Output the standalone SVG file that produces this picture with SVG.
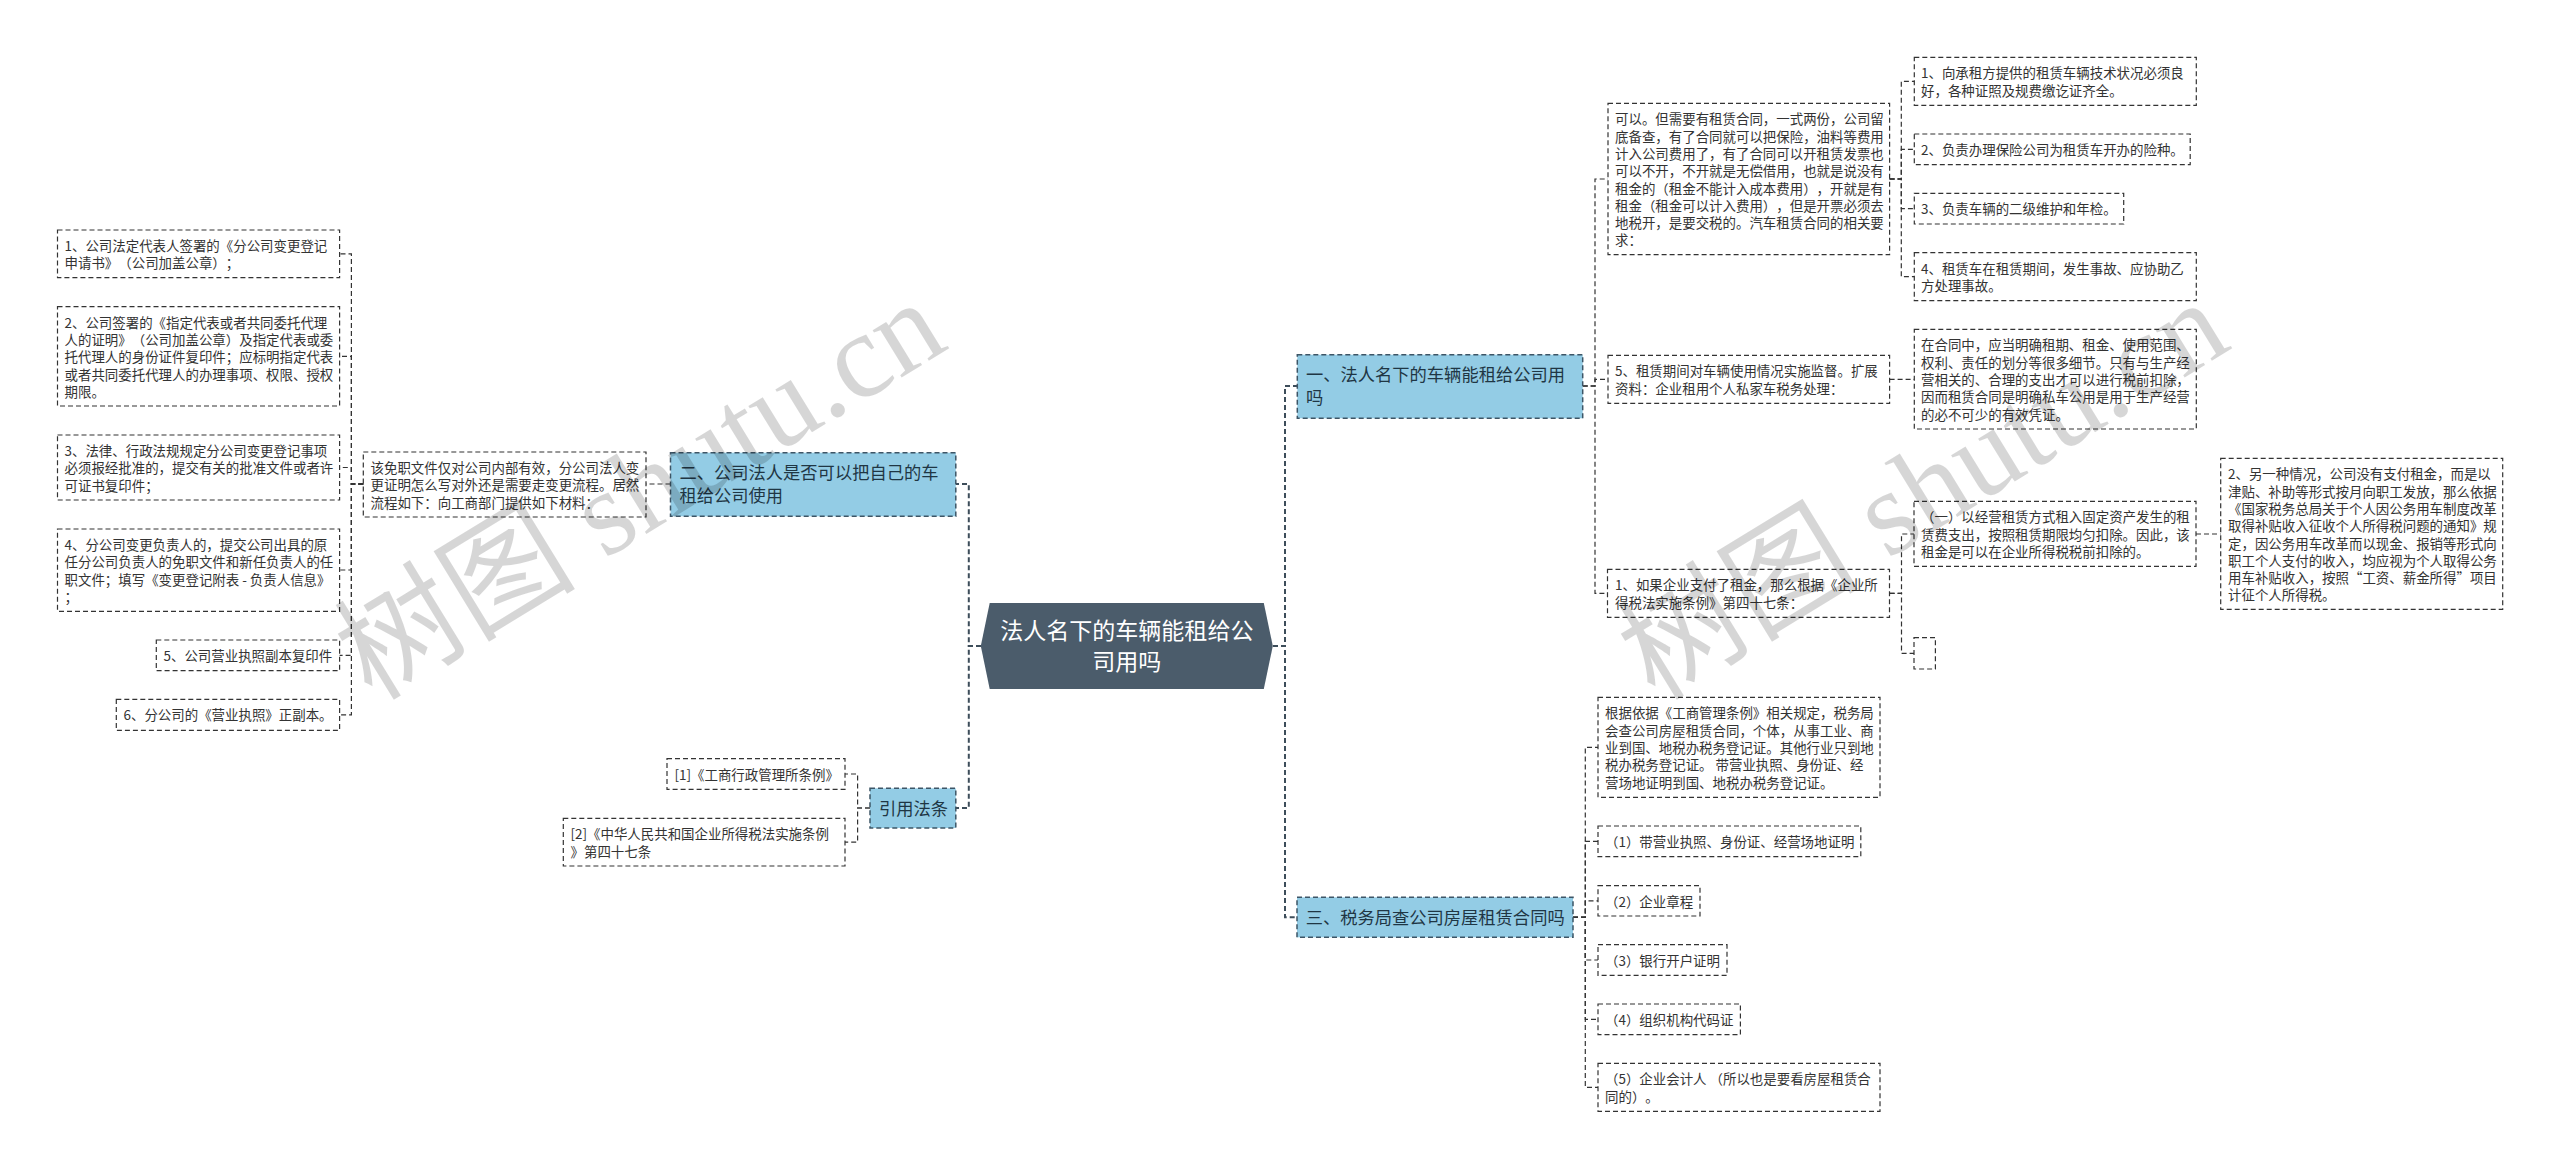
<svg xmlns="http://www.w3.org/2000/svg" width="2560" height="1169" viewBox="0 0 2560 1169">
<style>
text{font-family:"Noto Sans CJK SC","Noto Sans",sans-serif;text-spacing-trim:space-all;}
.leaf rect{fill:none;stroke:#333;stroke-width:1.2;stroke-dasharray:5 3;}
.leaf text{font-size:13.44px;fill:#333;}
.branch rect{fill:#93cce5;stroke:#3d5566;stroke-width:1.5;stroke-dasharray:5 3;}
.branch text{font-size:17.28px;fill:#1f3644;}
.root polygon{fill:#4b5c6b;}
.root text{font-size:23.04px;fill:#fff;text-anchor:middle;}
.c{fill:none;stroke:#333;stroke-width:1.2;stroke-dasharray:5 3;}
.c2{fill:none;stroke:#3d4d5a;stroke-width:2;stroke-dasharray:5 3;}
.wm{font-family:"Liberation Serif","Noto Sans CJK SC",serif;font-size:121px;fill:#000;fill-opacity:.16;}
</style>
<g id="connectors">
<path class="c2" d="M981 646H968.8V484H956"/>
<path class="c2" d="M981 646H968.8V808H956"/>
<path class="c2" d="M1273 646H1285V386H1297"/>
<path class="c2" d="M1273 646H1285V917.3H1297"/>
<path class="c" d="M670.5 484H646"/>
<path class="c" d="M363.3 484H351.4V253.8H339.6"/>
<path class="c" d="M363.3 484H351.4V356.3H339.6"/>
<path class="c" d="M363.3 484H351.4V467.5H339.6"/>
<path class="c" d="M363.3 484H351.4V570H339.6"/>
<path class="c" d="M363.3 484H351.4V655.3H339.6"/>
<path class="c" d="M363.3 484H351.4V714.8H339.6"/>
<path class="c" d="M870 808H857.6V774H845"/>
<path class="c" d="M870 808H857.6V842.2H845"/>
<path class="c" d="M1582.7 386H1595V179H1608"/>
<path class="c" d="M1582.7 386H1595V379.3H1608"/>
<path class="c" d="M1582.7 386H1595V593.3H1608"/>
<path class="c" d="M1889.6 179H1901.3V81.3H1914.3"/>
<path class="c" d="M1889.6 179H1901.3V149.3H1914.3"/>
<path class="c" d="M1889.6 179H1901.3V208.7H1914.3"/>
<path class="c" d="M1889.6 179H1901.3V276.7H1914.3"/>
<path class="c" d="M1889.6 379.3H1914.3"/>
<path class="c" d="M1889.6 593.3H1901.5V534H1914"/>
<path class="c" d="M1889.6 593.3H1901.5V653.3H1914"/>
<path class="c" d="M2196 534H2220.7"/>
<path class="c" d="M1573 917.3H1585.3V747.3H1598"/>
<path class="c" d="M1573 917.3H1585.3V841.3H1598"/>
<path class="c" d="M1573 917.3H1585.3V900.8H1598"/>
<path class="c" d="M1573 917.3H1585.3V960H1598"/>
<path class="c" d="M1573 917.3H1585.3V1019.3H1598"/>
<path class="c" d="M1573 917.3H1585.3V1087.3H1598"/>
</g>
<g id="root" class="root">
<polygon points="989.7,603 1263.8,603 1272.8,646 1263.8,689 989.7,689 980.8,646"/>
<text x="1126.8" y="639">法人名下的车辆能租给公</text>
<text x="1126.8" y="670">司用吗</text>
</g>
<g id="b1" class="branch"><rect x="1297.3" y="354.7" width="285.4" height="63.6"/>
<text x="1306" y="381">一、法人名下的车辆能租给公司用</text><text x="1306" y="404">吗</text></g>
<g id="b2" class="branch"><rect x="670.5" y="452.7" width="285.3" height="63.6"/>
<text x="679.5" y="479">二、公司法人是否可以把自己的车</text><text x="679.5" y="502">租给公司使用</text></g>
<g id="b3" class="branch"><rect x="1297" y="897.3" width="276" height="40"/>
<text x="1305.7" y="924">三、税务局查公司房屋租赁合同吗</text></g>
<g id="b4" class="branch"><rect x="870" y="788.3" width="85.8" height="39.7"/>
<text x="879" y="815">引用法条</text></g>
<g id="l1" class="leaf"><rect x="57.5" y="230" width="282.1" height="47.7"/>
<text x="64.5" y="251">1、公司法定代表人签署的《分公司变更登记</text><text x="64.5" y="268.3">申请书》（公司加盖公章）；</text></g>
<g id="l2" class="leaf"><rect x="57.5" y="306.7" width="282.1" height="99.3"/>
<text x="64.5" y="327.7">2、公司签署的《指定代表或者共同委托代理</text><text x="64.5" y="345">人的证明》（公司加盖公章）及指定代表或委</text><text x="64.5" y="362.3">托代理人的身份证件复印件；应标明指定代表</text><text x="64.5" y="379.6">或者共同委托代理人的办理事项、权限、授权</text><text x="64.5" y="396.9">期限。</text></g>
<g id="l3" class="leaf"><rect x="57.5" y="435" width="282.1" height="65"/>
<text x="64.5" y="456">3、法律、行政法规规定分公司变更登记事项</text><text x="64.5" y="473.3">必须报经批准的，提交有关的批准文件或者许</text><text x="64.5" y="490.6">可证书复印件；</text></g>
<g id="l4" class="leaf"><rect x="57.5" y="529" width="282.1" height="82.3"/>
<text x="64.5" y="550">4、分公司变更负责人的，提交公司出具的原</text><text x="64.5" y="567.3">任分公司负责人的免职文件和新任负责人的任</text><text x="64.5" y="584.6">职文件；填写《变更登记附表 - 负责人信息》</text><text x="64.5" y="601.9">；</text></g>
<g id="l5" class="leaf"><rect x="156.3" y="640" width="183.3" height="30.7"/>
<text x="163.5" y="661">5、公司营业执照副本复印件</text></g>
<g id="l6" class="leaf"><rect x="116.3" y="699.3" width="223.3" height="31"/>
<text x="123.5" y="720.3">6、分公司的《营业执照》正副本。</text></g>
<g id="l7" class="leaf"><rect x="363.3" y="452" width="282.7" height="65"/>
<text x="370.5" y="473">该免职文件仅对公司内部有效，分公司法人变</text><text x="370.5" y="490.3">更证明怎么写对外还是需要走变更流程。居然</text><text x="370.5" y="507.6">流程如下：向工商部门提供如下材料：</text></g>
<g id="l8" class="leaf"><rect x="667" y="758.7" width="178" height="30.6"/>
<text x="674.5" y="779.7">[1]《工商行政管理所条例》</text></g>
<g id="l9" class="leaf"><rect x="563.3" y="818.3" width="281.7" height="47.7"/>
<text x="570.5" y="839.3">[2]《中华人民共和国企业所得税法实施条例</text><text x="570.5" y="856.6">》第四十七条</text></g>
<g id="r1" class="leaf"><rect x="1608" y="103.3" width="281.6" height="151.4"/>
<text x="1615" y="124.3">可以。但需要有租赁合同，一式两份，公司留</text><text x="1615" y="141.6">底备查，有了合同就可以把保险，油料等费用</text><text x="1615" y="158.9">计入公司费用了，有了合同可以开租赁发票也</text><text x="1615" y="176.2">可以不开，不开就是无偿借用，也就是说没有</text><text x="1615" y="193.5">租金的（租金不能计入成本费用），开就是有</text><text x="1615" y="210.8">租金（租金可以计入费用），但是开票必须去</text><text x="1615" y="228.1">地税开，是要交税的。汽车租赁合同的相关要</text><text x="1615" y="245.4">求：</text></g>
<g id="r2" class="leaf"><rect x="1608" y="355.3" width="281.6" height="48"/>
<text x="1615" y="376.3">5、租赁期间对车辆使用情况实施监督。扩展</text><text x="1615" y="393.6">资料：企业租用个人私家车税务处理：</text></g>
<g id="r3" class="leaf"><rect x="1607.5" y="569.3" width="282" height="48"/>
<text x="1615" y="590.3">1、如果企业支付了租金，那么根据《企业所</text><text x="1615" y="607.6">得税法实施条例》第四十七条：</text></g>
<g id="s1" class="leaf"><rect x="1914.3" y="57.3" width="282" height="48"/>
<text x="1921" y="78.3">1、向承租方提供的租赁车辆技术状况必须良</text><text x="1921" y="95.6">好，各种证照及规费缴讫证齐全。</text></g>
<g id="s2" class="leaf"><rect x="1914.3" y="134" width="275.9" height="30.7"/>
<text x="1921" y="155">2、负责办理保险公司为租赁车开办的险种。</text></g>
<g id="s3" class="leaf"><rect x="1914.3" y="193.3" width="209.4" height="30.7"/>
<text x="1921" y="214.3">3、负责车辆的二级维护和年检。</text></g>
<g id="s4" class="leaf"><rect x="1914.3" y="252.7" width="282" height="48"/>
<text x="1921" y="273.7">4、租赁车在租赁期间，发生事故、应协助乙</text><text x="1921" y="291">方处理事故。</text></g>
<g id="s5" class="leaf"><rect x="1914.3" y="329.3" width="282" height="99.7"/>
<text x="1921" y="350.3">在合同中，应当明确租期、租金、使用范围、</text><text x="1921" y="367.6">权利、责任的划分等很多细节。只有与生产经</text><text x="1921" y="384.9">营相关的、合理的支出才可以进行税前扣除，</text><text x="1921" y="402.2">因而租赁合同是明确私车公用是用于生产经营</text><text x="1921" y="419.5">的必不可少的有效凭证。</text></g>
<g id="s6" class="leaf"><rect x="1914" y="501.3" width="282" height="65"/>
<text x="1921" y="522.3">（一）以经营租赁方式租入固定资产发生的租</text><text x="1921" y="539.6">赁费支出，按照租赁期限均匀扣除。因此，该</text><text x="1921" y="556.9">租金是可以在企业所得税税前扣除的。</text></g>
<g id="s7" class="leaf"><rect x="1914" y="637.7" width="21.4" height="31.3"/></g>
<g id="u1" class="leaf"><rect x="2220.7" y="458.3" width="282" height="151"/>
<text x="2228" y="479.3">2、另一种情况，公司没有支付租金，而是以</text><text x="2228" y="496.6">津贴、补助等形式按月向职工发放，那么依据</text><text x="2228" y="513.9">《国家税务总局关于个人因公务用车制度改革</text><text x="2228" y="531.2">取得补贴收入征收个人所得税问题的通知》规</text><text x="2228" y="548.5">定，因公务用车改革而以现金、报销等形式向</text><text x="2228" y="565.8">职工个人支付的收入，均应视为个人取得公务</text><text x="2228" y="583.1">用车补贴收入，按照“工资、薪金所得”项目</text><text x="2228" y="600.4">计征个人所得税。</text></g>
<g id="t1" class="leaf"><rect x="1598" y="697.3" width="282" height="100"/>
<text x="1605" y="718.3">根据依据《工商管理条例》相关规定，税务局</text><text x="1605" y="735.6">会查公司房屋租赁合同，个体，从事工业、商</text><text x="1605" y="752.9">业到国、地税办税务登记证。其他行业只到地</text><text x="1605" y="770.2">税办税务登记证。 带营业执照、身份证、经</text><text x="1605" y="787.5">营场地证明到国、地税办税务登记证。</text></g>
<g id="t2" class="leaf"><rect x="1598" y="826" width="262.8" height="30.7"/>
<text x="1605" y="847">（1）带营业执照、身份证、经营场地证明</text></g>
<g id="t3" class="leaf"><rect x="1598" y="885.7" width="102" height="30.3"/>
<text x="1605" y="906.7">（2）企业章程</text></g>
<g id="t4" class="leaf"><rect x="1598" y="944.7" width="129" height="30.6"/>
<text x="1605" y="965.7">（3）银行开户证明</text></g>
<g id="t5" class="leaf"><rect x="1598" y="1004" width="142.4" height="30.7"/>
<text x="1605" y="1025">（4）组织机构代码证</text></g>
<g id="t6" class="leaf"><rect x="1598" y="1063.3" width="282" height="48"/>
<text x="1605" y="1084.3">（5）企业会计人 （所以也是要看房屋租赁合</text><text x="1605" y="1101.6">同的）。</text></g>
<g id="watermarks">
<text class="wm" transform="translate(372 702) rotate(-31.5)">树图 shutu.cn</text>
<text class="wm" transform="translate(1655 702) rotate(-31.5)">树图 shutu.cn</text>
</g>
</svg>
